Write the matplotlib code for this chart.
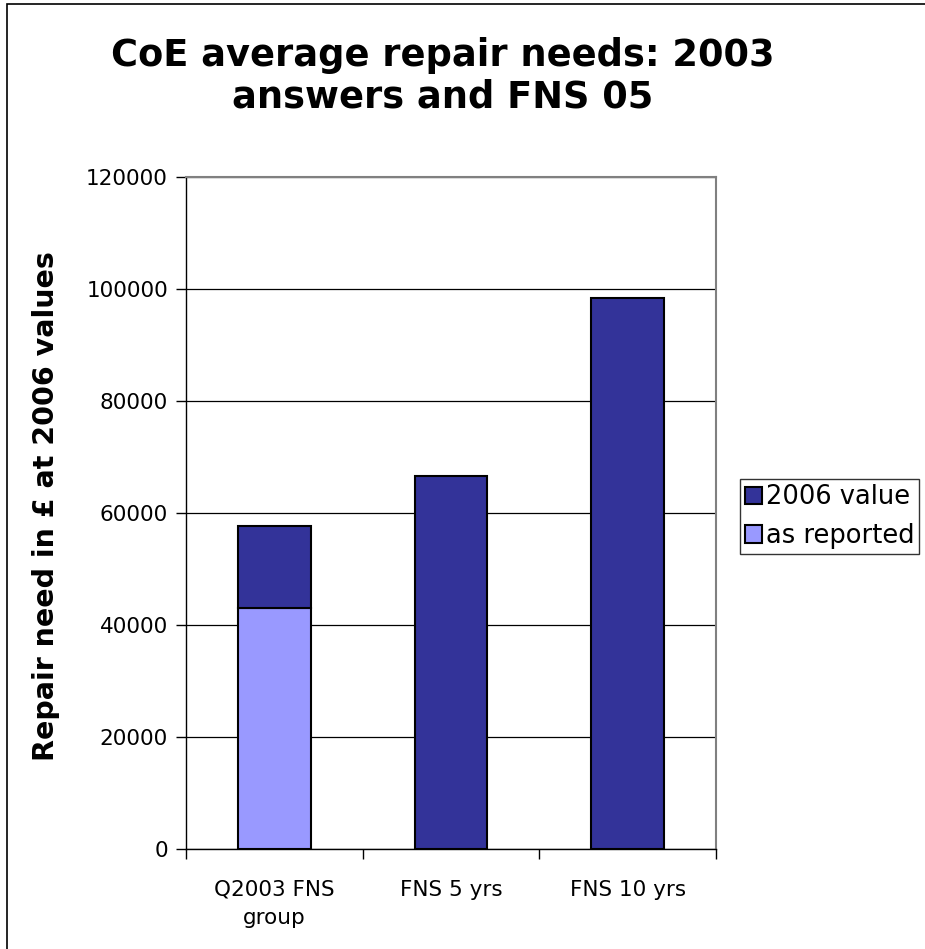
import matplotlib
matplotlib.use("Agg")
import matplotlib.pyplot as plt
from matplotlib.patches import Rectangle

categories = ["Q2003 FNS\ngroup", "FNS 5 yrs", "FNS 10 yrs"]
as_reported = [43000, 0, 0]
value_2006 = [57700, 66600, 98400]
yticks = [0, 20000, 40000, 60000, 80000, 100000, 120000]

dark = "#333399"
light = "#9999FF"

fig = plt.figure(figsize=(9.25, 9.49), dpi=100)
ax = fig.add_axes([186/925, 1-849/949, (716-186)/925, (849-177)/949])

x = list(range(len(categories)))
top_part = [v - r for v, r in zip(value_2006, as_reported)]
ax.bar(x, as_reported, width=0.41, color=light, edgecolor="black", linewidth=1.5, label="as reported", zorder=3)
ax.bar(x, top_part, bottom=as_reported, width=0.41, color=dark, edgecolor="black", linewidth=1.5, label="2006 value", zorder=3)

ax.set_xlim(-0.5, 2.5)
ax.set_ylim(0, 120000)
ax.set_yticks(yticks)
ax.set_yticklabels([str(t) for t in yticks], fontsize=15.5)
ax.yaxis.grid(True, color="black", linewidth=0.9, zorder=0)
ax.set_xticks(x)
ax.set_xticklabels(categories, fontsize=15.5, linespacing=1.55)
ax.tick_params(axis="x", length=0, pad=22)
ax.set_xticks([-0.5, 0.5, 1.5, 2.5], minor=True)
ax.tick_params(axis="x", which="minor", length=7, width=1, direction="out")
ax.tick_params(axis="y", length=7, width=1, direction="out", pad=6)

for s in ["top", "right"]:
    ax.spines[s].set_color("#808080")
    ax.spines[s].set_linewidth(1.5)
for s in ["left", "bottom"]:
    ax.spines[s].set_color("black")
    ax.spines[s].set_linewidth(1)

ax.set_ylabel("Repair need in £ at 2006 values", fontsize=20.5, fontweight="bold")
ax.yaxis.set_label_coords(46/925, 1-506/949, transform=fig.transFigure)
ax.yaxis.label.set_va("center")

fig.suptitle("CoE average repair needs: 2003\nanswers and FNS 05", fontsize=26.5, fontweight="bold",
             y=1-76/949, va="center", x=443/925, linespacing=1.15)

handles, labels = ax.get_legend_handles_labels()
leg = fig.legend(handles[::-1], labels[::-1], loc="upper left", bbox_to_anchor=(740/925, 1-479/949),
                 fontsize=18.5, frameon=True, fancybox=False, edgecolor="black", handlelength=0.65,
                 handleheight=0.65, handletextpad=0.15, borderpad=0.2, labelspacing=0.5, borderaxespad=0)
leg.get_frame().set_linewidth(1)

fig.patches.append(Rectangle((7/925, -0.1), 1.2, 1-4/949 + 0.1, transform=fig.transFigure,
                             fill=False, edgecolor="black", linewidth=1.2))

fig.savefig("out.png", dpi=100)
